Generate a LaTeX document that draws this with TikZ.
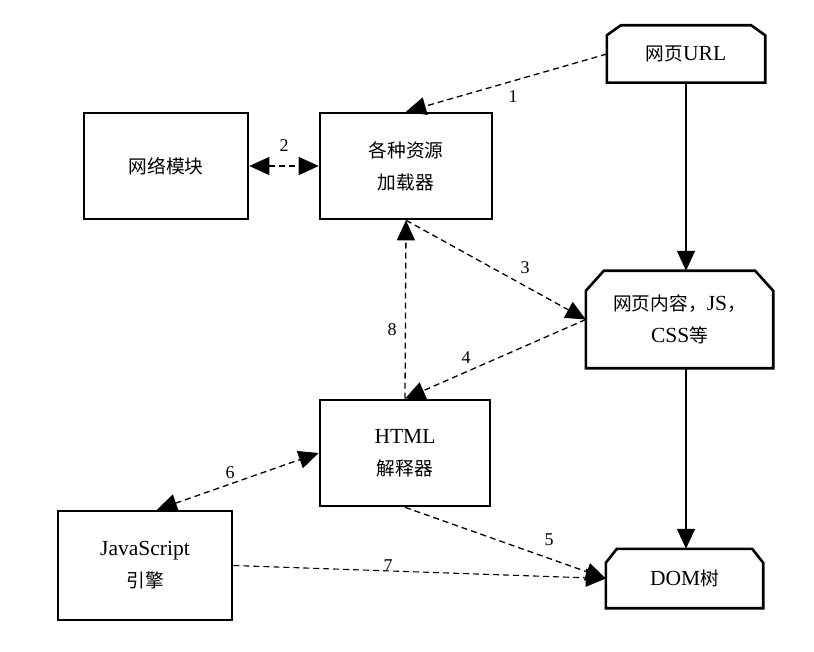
\documentclass[tikz,border=0pt]{standalone}
\usepackage{fontspec}
\setmainfont{Liberation Serif}
\newfontfamily\cjk[Scale=0.87]{Noto Sans CJK SC}
\usetikzlibrary{arrows.meta,calc}
\newcommand\chamf[3]{\draw[outline] ([yshift=-#3pt]#1.north west) -- ([xshift=#2pt]#1.north west) -- ([xshift=-#2pt]#1.north east) -- ([yshift=-#3pt]#1.north east) -- (#1.south east) -- (#1.south west) -- cycle;}
\begin{document}
\begin{tikzpicture}[x=1pt,y=-1pt,
  txt/.style={align=center, font=\fontsize{21.5}{32}\selectfont, inner sep=0pt},
  box/.style={txt, draw, line width=2.6pt},
  plain/.style={txt},
  outline/.style={line width=2.6pt, line join=miter},
  onetip/.style={-{Triangle[length=20pt,width=18pt]}},
  twotip/.style={{Triangle[length=20pt,width=18pt]}-{Triangle[length=20pt,width=18pt]}},
  dline/.style={line width=1.3pt, dash pattern=on 6pt off 4pt},
  dlinethin/.style={line width=1.1pt, dash pattern=on 6pt off 4pt},
  solidarrow/.style={line width=1.4pt},
  num/.style={font=\fontsize{18}{20}\selectfont, inner sep=0pt}]
\useasboundingbox (0,0) rectangle (814,652);

\node[box, minimum width=164pt, minimum height=106pt] (net) at (166,166) {{\cjk 网络模块}};
\node[box, minimum width=172pt, minimum height=106pt] (load) at (406,166) {{\cjk 各种资源}\\{\cjk 加载器}};
\node[plain, minimum width=158pt, minimum height=57pt] (url) at (686,54) {{\cjk 网页}URL};
\node[plain, minimum width=187pt, minimum height=97pt] (content) at (679.5,319.5) {{\cjk 网页内容，}JS{\cjk ，}\\CSS{\cjk 等}};
\node[plain, minimum width=157pt, minimum height=59pt] (dom) at (684.5,578.5) {DOM{\cjk 树}};
\node[box, minimum width=170pt, minimum height=106pt] (html) at (405,453) {HTML\\{\cjk 解释器}};
\node[box, minimum width=174pt, minimum height=109pt] (js) at (145,565.5) {JavaScript\\{\cjk 引擎}};

\chamf{url}{14}{10}
\chamf{content}{18}{20}
\chamf{dom}{11}{14}

\draw[dline, onetip] (url.west) -- (load.north);
\draw[dline, twotip] (net.east) -- (load.west);
\draw[dline, onetip] (load.south) -- (content.west);
\draw[dline, onetip] (content.west) -- (html.north);
\draw[dline, onetip] (html.north) -- (load.south);
\draw[dline, twotip] ([xshift=12pt]js.north) -- (html.west);
\draw[dline, onetip] (html.south) -- (dom.west);
\draw[dlinethin, onetip] (js.east) -- (dom.west);
\draw[solidarrow, onetip] (url.south) -- (url.south |- content.north);
\draw[solidarrow, onetip] (url.south |- content.south) -- (url.south |- dom.north);

\node[num] (n1) at (513,97) {1};
\node[num] (n2) at (284,146) {2};
\node[num] (n3) at (525,268) {3};
\node[num] (n8) at (392,330) {8};
\node[num] (n4) at (466,358) {4};
\node[num] (n6) at (230,473) {6};
\node[num] (n5) at (549,540) {5};
\node[num] (n7) at (388,566) {7};
\end{tikzpicture}
\end{document}
